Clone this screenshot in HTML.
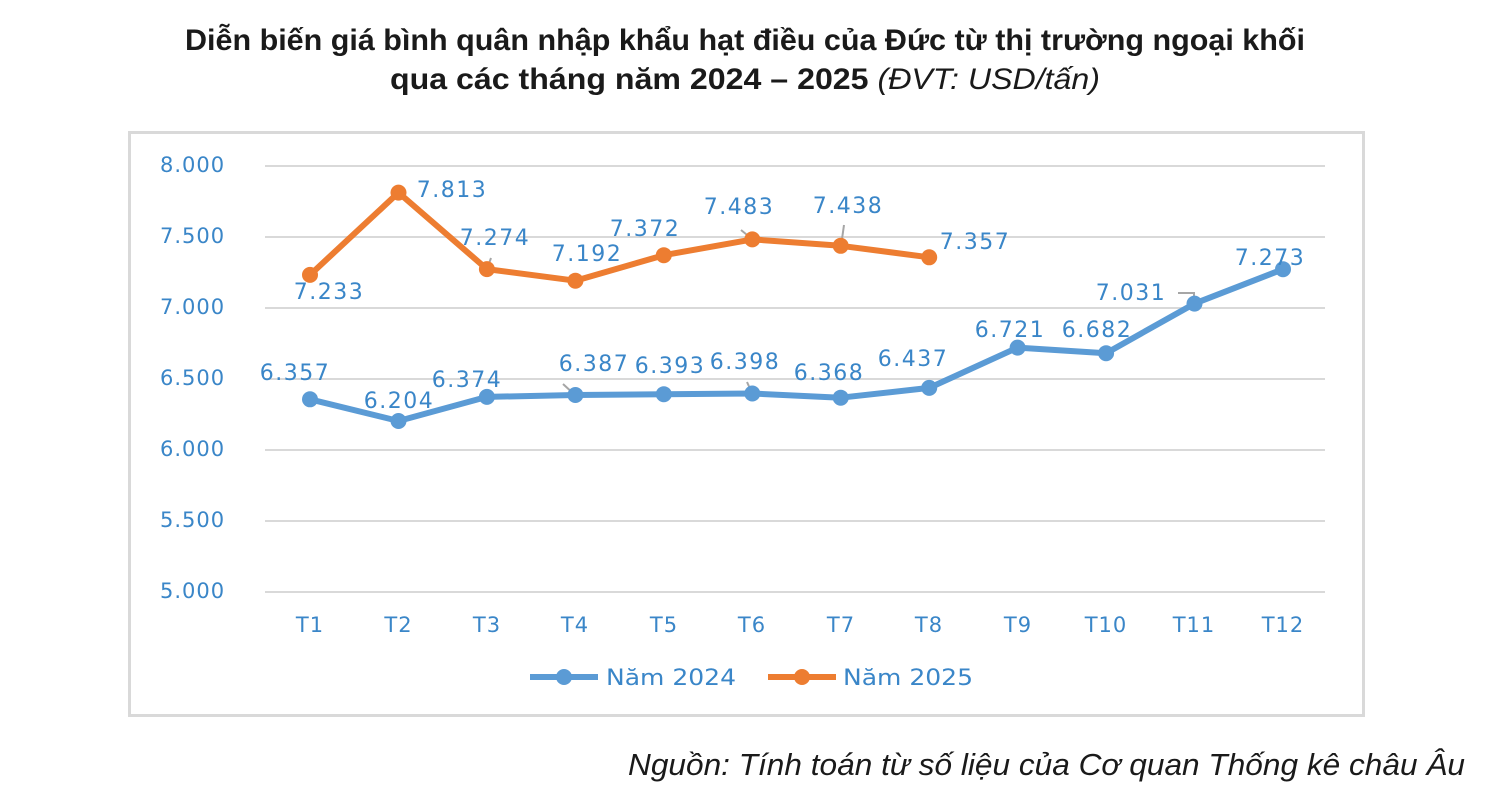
<!DOCTYPE html>
<html><head><meta charset="utf-8"><style>
body{margin:0;background:#fff;width:1487px;height:803px;overflow:hidden}
</style></head><body>
<svg width="1487" height="803" xmlns="http://www.w3.org/2000/svg">
<text x="745" y="50" text-anchor="middle" font-family="Liberation Sans, sans-serif" font-size="30" font-weight="bold" fill="#1a1a1a" textLength="1120" lengthAdjust="spacingAndGlyphs">Diễn biến giá bình quân nhập khẩu hạt điều của Đức từ thị trường ngoại khối</text>
<text x="745" y="89" text-anchor="middle" font-family="Liberation Sans, sans-serif" font-size="30" fill="#1a1a1a" textLength="710" lengthAdjust="spacingAndGlyphs"><tspan font-weight="bold">qua các tháng năm 2024 – 2025 </tspan><tspan font-style="italic">(ĐVT: USD/tấn)</tspan></text>
<rect x="129.5" y="132.5" width="1234" height="583" fill="#fff" stroke="#d9d9d9" stroke-width="3"/>
<g stroke="#d9d9d9" stroke-width="2">
<line x1="265" x2="1325" y1="166" y2="166"/><line x1="265" x2="1325" y1="237" y2="237"/>
<line x1="265" x2="1325" y1="308" y2="308"/><line x1="265" x2="1325" y1="379" y2="379"/>
<line x1="265" x2="1325" y1="450" y2="450"/><line x1="265" x2="1325" y1="521" y2="521"/>
<line x1="265" x2="1325" y1="592" y2="592"/>
</g>
<g font-family="DejaVu Sans, sans-serif" font-size="21" fill="#3a86c8" dominant-baseline="middle" letter-spacing="1">
<text x="160" y="166">8.000</text><text x="160" y="237">7.500</text><text x="160" y="308">7.000</text>
<text x="160" y="379">6.500</text><text x="160" y="450">6.000</text><text x="160" y="521">5.500</text><text x="160" y="592">5.000</text>
</g>
<g font-family="DejaVu Sans, sans-serif" font-size="21" fill="#3a86c8" text-anchor="middle" letter-spacing="1">
<text x="310" y="632">T1</text><text x="398.5" y="632">T2</text><text x="487" y="632">T3</text><text x="575" y="632">T4</text>
<text x="664" y="632">T5</text><text x="752" y="632">T6</text><text x="841" y="632">T7</text><text x="929" y="632">T8</text>
<text x="1018" y="632">T9</text><text x="1106" y="632">T10</text><text x="1194" y="632">T11</text><text x="1283" y="632">T12</text>
</g>
<g stroke="#a6a6a6" stroke-width="2" fill="none">
<path d="M487 269 L491 258"/><path d="M575 395 L563 384"/><path d="M752 393 L747 382"/>
<path d="M752 239 L741 230"/><path d="M841 246 L844 225"/><path d="M1194 303 L1194 293 L1178 293"/>
</g>
<polyline fill="none" stroke="#5b9bd5" stroke-width="6" stroke-linejoin="round" points="310,399.3 398.5,421 486.9,396.9 575.4,395 663.8,394.2 752.3,393.5 840.7,397.7 929.2,387.9 1017.6,347.6 1106.1,353.2 1194.5,303.6 1283,269.2"/>
<g fill="#5b9bd5"><circle cx="310" cy="399.3" r="8"/><circle cx="398.5" cy="421" r="8"/><circle cx="486.9" cy="396.9" r="8"/><circle cx="575.4" cy="395" r="8"/><circle cx="663.8" cy="394.2" r="8"/><circle cx="752.3" cy="393.5" r="8"/><circle cx="840.7" cy="397.7" r="8"/><circle cx="929.2" cy="387.9" r="8"/><circle cx="1017.6" cy="347.6" r="8"/><circle cx="1106.1" cy="353.2" r="8"/><circle cx="1194.5" cy="303.6" r="8"/><circle cx="1283" cy="269.2" r="8"/></g>
<polyline fill="none" stroke="#ed7d31" stroke-width="6" stroke-linejoin="round" points="310,274.9 398.5,192.6 486.9,269.1 575.4,280.7 663.8,255.2 752.3,239.4 840.7,245.8 929.2,257.3"/>
<g fill="#ed7d31"><circle cx="310" cy="274.9" r="8"/><circle cx="398.5" cy="192.6" r="8"/><circle cx="486.9" cy="269.1" r="8"/><circle cx="575.4" cy="280.7" r="8"/><circle cx="663.8" cy="255.2" r="8"/><circle cx="752.3" cy="239.4" r="8"/><circle cx="840.7" cy="245.8" r="8"/><circle cx="929.2" cy="257.3" r="8"/></g>
<g font-family="DejaVu Sans, sans-serif" font-size="22" fill="#3a86c8" text-anchor="middle" dominant-baseline="middle" letter-spacing="1.5">
<text x="295" y="374">6.357</text><text x="399" y="402">6.204</text><text x="467" y="381">6.374</text><text x="594" y="365">6.387</text>
<text x="670" y="367">6.393</text><text x="745" y="363">6.398</text><text x="829" y="374">6.368</text><text x="913" y="360">6.437</text>
<text x="1010" y="331">6.721</text><text x="1097" y="331">6.682</text><text x="1131" y="294">7.031</text><text x="1270" y="259">7.273</text>
<text x="329" y="293">7.233</text><text x="452" y="191">7.813</text><text x="495" y="239">7.274</text><text x="587" y="255">7.192</text>
<text x="645" y="230">7.372</text><text x="739" y="208">7.483</text><text x="848" y="207">7.438</text><text x="975" y="243">7.357</text>
</g>
<line x1="530" x2="598" y1="677" y2="677" stroke="#5b9bd5" stroke-width="6"/><circle cx="564" cy="677" r="8" fill="#5b9bd5"/>
<text x="606" y="685" font-family="DejaVu Sans, sans-serif" font-size="22" fill="#3a86c8" textLength="130" lengthAdjust="spacingAndGlyphs">Năm 2024</text>
<line x1="768" x2="836" y1="677" y2="677" stroke="#ed7d31" stroke-width="6"/><circle cx="802" cy="677" r="8" fill="#ed7d31"/>
<text x="843" y="685" font-family="DejaVu Sans, sans-serif" font-size="22" fill="#3a86c8" textLength="130" lengthAdjust="spacingAndGlyphs">Năm 2025</text>
<text x="1465" y="775" text-anchor="end" font-family="Liberation Sans, sans-serif" font-size="31" font-style="italic" fill="#1a1a1a" textLength="837" lengthAdjust="spacingAndGlyphs">Nguồn: Tính toán từ số liệu của Cơ quan Thống kê châu Âu</text>
</svg>
</body></html>
